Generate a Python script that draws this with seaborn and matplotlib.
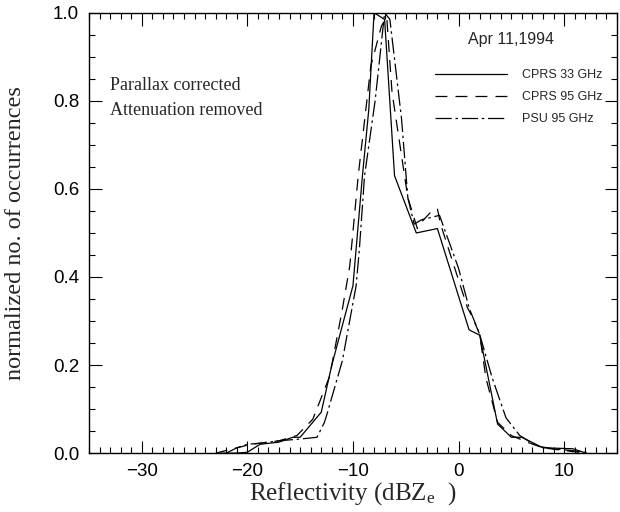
import matplotlib
matplotlib.use("Agg")
import matplotlib.pyplot as plt
import seaborn as sns
import pandas as pd
from matplotlib.ticker import MultipleLocator
from matplotlib.lines import Line2D

# --- data ---
x_cprs33 = [-22.5, -21.0, -20.0, -18.8, -17.0, -15.7, -15.0, -13.0, -12.0, -11.0, -10.0,
            -9.1, -8.5, -8.0, -7.0, -6.06, -4.0, -2.0, 1.0, 2.0, 3.7, 5.0, 6.0, 8.0, 10.8, 12.1]
y_cprs33 = [0.0, 0.0, 0.002, 0.02, 0.025, 0.036, 0.036, 0.093, 0.20, 0.29, 0.38,
            0.63, 0.78, 1.0, 0.985, 0.63, 0.50, 0.51, 0.28, 0.268, 0.066, 0.036, 0.036, 0.012, 0.01, 0.0]

x_cprs95 = [-23.0, -22.0, -21.0, -20.0, -19.0, -17.0, -15.3, -13.8, -12.2, -11.0, -10.3,
            -9.5, -8.3, -7.3, -6.8, -6.3, -4.8, -3.9, -3.5, -2.6, -2.0, -1.7, 0.85, 1.3, 2.0,
            2.6, 3.7, 5.0, 6.5, 8.0, 10.0, 12.0]
y_cprs95 = [0.0, 0.006, 0.012, 0.018, 0.022, 0.028, 0.04, 0.077, 0.175, 0.327, 0.425,
            0.63, 0.88, 0.97, 0.99, 0.82, 0.58, 0.51, 0.525, 0.548, 0.555, 0.52, 0.33, 0.31, 0.27,
            0.17, 0.07, 0.04, 0.025, 0.012, 0.006, 0.0]

x_psu95 = [-22.0, -21.0, -20.0, -19.0, -17.0, -15.0, -13.4, -12.7, -12.5, -11.0, -9.7,
           -9.4, -8.9, -7.9, -7.0, -6.5, -5.4, -4.8, -4.2, -3.5, -1.8, 0.0, 1.0, 2.0,
           3.2, 4.5, 5.8, 7.4, 9.0, 11.0, 12.5]
y_psu95 = [0.0, 0.012, 0.02, 0.022, 0.028, 0.032, 0.036, 0.07, 0.085, 0.21, 0.38,
           0.46, 0.63, 0.80, 1.0, 0.985, 0.76, 0.58, 0.52, 0.53, 0.54, 0.42, 0.33, 0.27,
           0.17, 0.08, 0.04, 0.016, 0.01, 0.005, 0.0]

series_names = ["CPRS 33 GHz", "CPRS 95 GHz", "PSU 95 GHz"]
x_ticks = [-30, -20, -10, 0, 10]
y_ticks = [0.0, 0.2, 0.4, 0.6, 0.8, 1.0]

frames = []
for name, xs, ys in zip(series_names, [x_cprs33, x_cprs95, x_psu95],
                        [y_cprs33, y_cprs95, y_psu95]):
    frames.append(pd.DataFrame({"x": xs, "y": ys, "series": name}))
df = pd.concat(frames, ignore_index=True)

sns.set_style("ticks")
plt.rcParams["font.family"] = ["Liberation Sans", "DejaVu Sans"]
plt.rcParams["mathtext.fontset"] = "custom"
plt.rcParams["mathtext.rm"] = "Liberation Serif"
plt.rcParams["mathtext.it"] = "Liberation Serif"

fig = plt.figure(figsize=(6.2, 5.12), dpi=100)
ax = fig.add_axes([0.1435, 0.115, 0.8515, 0.860])

styles = {
    "CPRS 33 GHz": "-",
    "CPRS 95 GHz": (0, (9.5, 6.5)),
    "PSU 95 GHz": (0, (13, 3, 2, 3)),
}
for name in series_names:
    sub = df[df["series"] == name]
    sns.lineplot(data=sub, x="x", y="y", ax=ax, color="black", lw=0.9,
                 linestyle=styles[name], sort=False, estimator=None, legend=False)

ax.set_xlim(-35, 15)
ax.set_ylim(0, 1.0)
ax.set_xticks(x_ticks)
ax.set_yticks(y_ticks)
ax.set_xticklabels([("\u2212" + str(abs(t))) if t < 0 else str(t) for t in x_ticks])
ax.set_yticklabels([f"{t:.1f}" for t in y_ticks])
ax.xaxis.set_minor_locator(MultipleLocator(1))
ax.yaxis.set_minor_locator(MultipleLocator(0.05))
ax.tick_params(which="both", direction="in", top=True, right=True, colors="black",
               labelsize=13.5, width=0.8)
ax.tick_params(which="major", length=9, pad=7)
ax.tick_params(which="minor", length=4.5)
for sp in ax.spines.values():
    sp.set_linewidth(1.0)
    sp.set_color("black")

ax.set_xlabel("Reflectivity (dBZ$_{\\rm e}$  )", family=["Liberation Serif"], fontsize=18,
              labelpad=0)
ax.set_ylabel("normalized no. of occurrences", family=["Liberation Serif"], fontsize=17.5)
ax.yaxis.set_label_coords(-0.12, 0.5)

ax.text(0.04, 0.836, "Parallax corrected", transform=ax.transAxes,
        family=["Liberation Serif"], fontsize=13, va="center")
ax.text(0.04, 0.777, "Attenuation removed", transform=ax.transAxes,
        family=["Liberation Serif"], fontsize=13, va="center")
ax.text(0.80, 0.94, "Apr 11,1994", transform=ax.transAxes, fontsize=11.5, va="center",
        ha="center")

handles = [Line2D([0], [0], color="black", lw=0.9, linestyle=styles[n]) for n in series_names]
leg = ax.legend(handles, series_names, loc="upper left", bbox_to_anchor=(0.655, 0.872),
                frameon=False, fontsize=9, handlelength=5.8, handletextpad=1.2,
                labelspacing=0.8, borderpad=0, borderaxespad=0)

fig.savefig("out.png", dpi=100)
